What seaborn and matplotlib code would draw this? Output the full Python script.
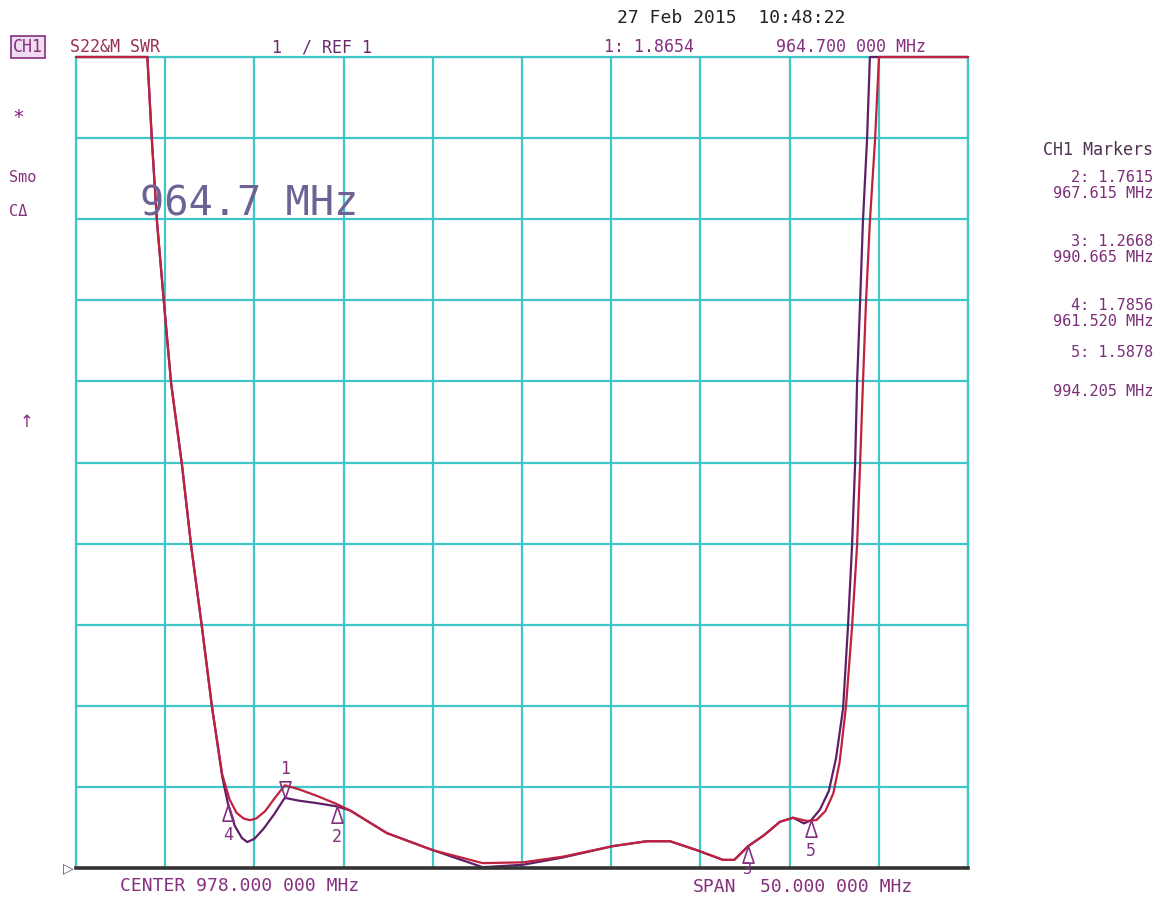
"""
Network analyzer SWR screen (S22 data & memory) redrawn with seaborn.
"""

import matplotlib

matplotlib.use("Agg")
import matplotlib.pyplot as plt
import numpy as np
import pandas as pd
import seaborn as sns
from matplotlib.path import Path

# ---------------------------------------------------------------------------
# Data (MHz, SWR)
# ---------------------------------------------------------------------------
data_mhz = [953.0, 957.0, 957.26, 957.54, 957.93, 958.33, 958.94, 959.45, 960.06,
            960.62, 961.2, 961.52, 961.9, 962.3, 962.6, 963.0, 963.5, 964.1, 964.7,
            965.5, 966.5, 967.615, 968.36, 970.43, 973.0, 975.8, 978.06, 980.3,
            983.1, 985.0, 986.3, 987.8, 989.27, 989.9, 990.665, 991.6, 992.46,
            993.2, 993.8, 994.205, 994.7, 995.2, 995.6, 996.0, 996.27, 996.5, 996.67,
            996.78, 996.95, 997.11, 997.34, 997.5, 1003.0]
data_swr = [11.0, 11.0, 9.95, 8.97, 7.97, 6.98, 5.97, 4.98, 3.97, 2.99, 2.12, 1.79,
            1.52, 1.37, 1.32, 1.36, 1.48, 1.66, 1.865, 1.83, 1.80, 1.76, 1.71, 1.43,
            1.22, 1.01, 1.04, 1.13, 1.27, 1.33, 1.33, 1.22, 1.10, 1.10, 1.267, 1.41,
            1.57, 1.62, 1.55, 1.588, 1.72, 1.95, 2.35, 2.97, 3.97, 4.97, 5.97, 6.97,
            7.97, 8.97, 9.98, 11.0, 11.0]

mem_mhz = [953.0, 957.0, 957.26, 957.54, 957.93, 958.33, 958.94, 959.45, 960.06,
           960.62, 961.2, 961.6, 962.0, 962.4, 962.75, 963.1, 963.6, 964.1, 964.7,
           965.5, 966.5, 967.6, 968.36, 970.43, 973.0, 975.8, 978.06, 980.3, 983.1,
           985.0, 986.3, 987.8, 989.27, 989.9, 990.665, 991.6, 992.46, 993.2,
           993.97, 994.5, 995.0, 995.45, 995.8, 996.16, 996.5, 996.78, 996.95, 997.11,
           997.28, 997.5, 997.79, 998.01, 1003.0]
mem_swr = [11.0, 11.0, 9.95, 8.97, 7.97, 6.98, 5.97, 4.98, 3.97, 2.99, 2.15, 1.85,
           1.68, 1.61, 1.59, 1.61, 1.70, 1.85, 2.02, 1.97, 1.89, 1.79, 1.71, 1.43,
           1.22, 1.06, 1.07, 1.14, 1.27, 1.33, 1.33, 1.22, 1.10, 1.10, 1.267, 1.41,
           1.57, 1.62, 1.58, 1.59, 1.70, 1.92, 2.30, 2.99, 3.97, 4.97, 5.97, 6.97,
           7.97, 8.97, 9.98, 11.0, 11.0]

marker_ids = ["1", "2", "3", "4", "5"]
marker_mhz = [964.7, 967.615, 990.665, 961.52, 994.205]
marker_swr = [1.8654, 1.7615, 1.2668, 1.7856, 1.5878]

side_lines = ["CH1 Markers", "2: 1.7615", "967.615 MHz", "3: 1.2668", "990.665 MHz",
              "4: 1.7856", "961.520 MHz", "5: 1.5878", "994.205 MHz"]
side_y = [150, 177, 194, 241, 258, 305, 322, 352, 392]

CENTER_MHZ = 978.0
SPAN_MHZ = 50.0

PURPLE = "#84307f"
GRID = "#3fc6c6"
W, H = 1161, 901

sns.set_style("white")
plt.rcParams["font.family"] = ["DejaVu Sans Mono", "DejaVu Sans"]

fig = plt.figure(figsize=(W / 100, H / 100), dpi=100)
ax = fig.add_axes([76 / W, 1 - 868 / H, (968 - 76) / W, (868 - 57) / H])

df_data = pd.DataFrame({"MHz": data_mhz, "SWR": data_swr})
df_mem = pd.DataFrame({"MHz": mem_mhz, "SWR": mem_swr})
sns.lineplot(data=df_data, x="MHz", y="SWR", ax=ax, color="#5e1f66", lw=1.6,
             sort=False, estimator=None, clip_on=False, zorder=4)
sns.lineplot(data=df_mem, x="MHz", y="SWR", ax=ax, color="#c0213f", lw=1.6,
             sort=False, estimator=None, clip_on=False, zorder=5)

lo, hi = CENTER_MHZ - SPAN_MHZ / 2, CENTER_MHZ + SPAN_MHZ / 2
ax.set_xlim(lo, hi)
ax.set_ylim(1, 11)
ax.set_xticks(np.arange(lo, hi + 0.1, SPAN_MHZ / 10))
ax.set_yticks(np.arange(1, 12, 1))
ax.tick_params(length=0, labelbottom=False, labelleft=False)
ax.set_xlabel("")
ax.set_ylabel("")
ax.grid(True, color=GRID, lw=1.6)
for side in ["top", "left", "right"]:
    ax.spines[side].set_color(GRID)
    ax.spines[side].set_linewidth(1.6)
ax.spines["bottom"].set_color("#333333")
ax.spines["bottom"].set_linewidth(2.6)
ax.spines["bottom"].set_zorder(6)

# marker triangles: apex on the trace
tri_up = Path([(0, 0), (-0.33, -1), (0.33, -1), (0, 0)],
              [Path.MOVETO, Path.LINETO, Path.LINETO, Path.CLOSEPOLY])
tri_dn = Path([(0, 0), (-0.33, 1), (0.33, 1), (0, 0)],
              [Path.MOVETO, Path.LINETO, Path.LINETO, Path.CLOSEPOLY])
for mid, mx, my in zip(marker_ids, marker_mhz, marker_swr):
    active = mid == "1"
    ax.plot([mx], [my], marker=tri_dn if active else tri_up, ms=24, mfc="none",
            mec=PURPLE, mew=1.2, ls="none", zorder=7, clip_on=False)
    dy = 21 if active else (-17 if mid == "3" else -22)
    ax.annotate(mid, (mx, my), xytext=(0, dy),
                textcoords="offset points", ha="center", va="center",
                fontsize=11 if mid == "3" else 12, color=PURPLE, zorder=8)

# header
fig.text(617 / W, 1 - 18 / H, "27 Feb 2015  10:48:22", fontsize=13,
         color="#222222", va="center", ha="left")
fig.text(13 / W, 1 - 47 / H, "CH1", fontsize=12, color=PURPLE, va="center",
         bbox=dict(boxstyle="square,pad=0.1", fc="#efdcf0", ec=PURPLE, lw=1.2))
fig.text(70 / W, 1 - 47 / H, "S22&M SWR", fontsize=12, color="#9a3050", va="center")
fig.text(272 / W, 1 - 47 / H, "1  / REF 1", fontsize=12, color="#6a2a6a", va="center")
fig.text(604 / W, 1 - 47 / H, "1: 1.8654", fontsize=12, color=PURPLE, va="center")
fig.text(776 / W, 1 - 47 / H, "964.700 000 MHz", fontsize=12, color=PURPLE,
         va="center")

# left annotations
fig.text(12 / W, 1 - 117 / H, "*", fontsize=14, color="#8a1a8a", va="center")
fig.text(9 / W, 1 - 177 / H, "Smo", fontsize=11, color=PURPLE, va="center")
fig.text(9 / W, 1 - 212 / H, "CΔ", fontsize=11, color=PURPLE, va="center")
fig.text(20 / W, 1 - 422 / H, "↑", fontsize=12, color=PURPLE, va="center",
         family="DejaVu Sans")

# big active-marker readout
ax.text(140 / W, 1 - 204 / H, "964.7 MHz", transform=fig.transFigure, fontsize=29,
        color="#6c6294", va="center", ha="left", zorder=9)

# right marker table
for txt, yy in zip(side_lines, side_y):
    fig.text(1153 / W, 1 - yy / H, txt, fontsize=11 if yy > 150 else 12,
             color="#7a2f78" if yy > 150 else "#4e3350", va="center", ha="right")

# bottom labels
fig.text(120 / W, 1 - 886 / H, f"CENTER {CENTER_MHZ:.3f} 000 MHz", fontsize=13,
         color=PURPLE, va="center")
fig.text(693 / W, 1 - 887 / H, "SPAN", fontsize=13, color=PURPLE, va="center")
fig.text(760 / W, 1 - 887 / H, f"{SPAN_MHZ:.3f} 000 MHz", fontsize=13,
         color=PURPLE, va="center")
fig.text(68 / W, 1 - 868 / H, "▷", fontsize=10, color="#555566", va="center",
         ha="center", family="DejaVu Sans")

fig.savefig("out.png", dpi=100)
